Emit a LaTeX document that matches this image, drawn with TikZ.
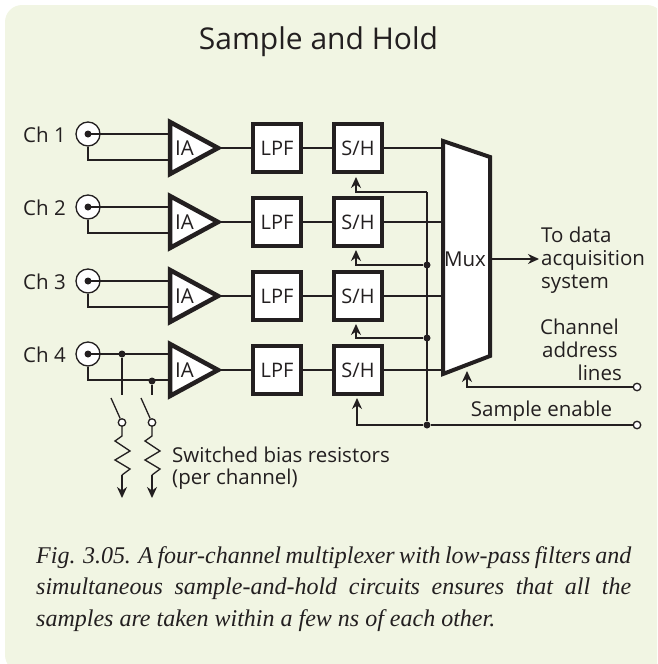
\documentclass[tikz,border=0pt]{standalone}
\usepackage{fontspec}
\setmainfont{Open Sans}
\newfontfamily\capfont{Liberation Serif}
\usetikzlibrary{arrows.meta}
\definecolor{panel}{HTML}{F1F5E3}
\definecolor{ink}{HTML}{231F20}
\tikzset{
  wire/.style={draw=ink,line width=1.3pt},
  arrowwire/.style={wire,-{Stealth[length=11pt,width=10pt,inset=3.5pt]}},
  thick box/.style={draw=ink,fill=white,line width=4.5pt,minimum size=48pt,inner sep=0pt,font=\fontsize{20}{20}\selectfont,text=ink},
  amp/.style={draw=ink,fill=white,line width=4.5pt,miter limit=10},
  lbl/.style={inner sep=0pt,text=ink,font=\fontsize{20.5}{20.5}\selectfont},
  conn/.style={circle,draw=ink,fill=white,line width=1.3pt,minimum size=24pt,inner sep=0pt},
  pin/.style={circle,fill=ink,minimum size=7pt,inner sep=0pt},
  opencirc/.style={circle,draw=ink,fill=white,line width=1.3pt,minimum size=7.5pt,inner sep=0pt},
  capline/.style={inner sep=0pt,anchor=base west,text=ink,font=\capfont\itshape\fontsize{24}{24}\selectfont},
}
\begin{document}
\begin{tikzpicture}[x=1pt,y=-1pt]
\useasboundingbox (0,0) rectangle (657,664);
\begin{scope}
\clip (0,0) rectangle (657,664);
\fill[panel,rounded corners=17pt] (5,5) rectangle (664,672);
\end{scope}
\node[lbl,font=\fontsize{30}{30}\selectfont] (title) at (318.5,41.5) {Sample and Hold};

\foreach \i/\y/\c in {1/148/134,2/222/207,3/296/281,4/370/354}{
  \coordinate (ina\i) at (170,\c);
  \coordinate (inb\i) at (170,\c+26);
  \coordinate (amptop\i) at (170,\y-26);
  \coordinate (ampbot\i) at (170,\y+26);
  \coordinate (ampout\i) at (218,\y);
  \coordinate (muxin\i) at (443,\y);
  \node[conn] (conn\i) at (88,\c) {};
  \coordinate (bend\i) at (88,\c+26);
  \draw[wire] (conn\i.south) -- (bend\i) -- (inb\i);
  \draw[wire] (conn\i.center) -- (ina\i);
  \node[pin] (pin\i) at (conn\i.center) {};
  \node[lbl,anchor=west] (chl\i) at (23,\c+1) {Ch \i};
  \draw[amp] (amptop\i) -- (ampout\i) -- (ampbot\i) -- cycle;
  \node[lbl] (ia\i) at (184.5,\y) {IA};
  \node[thick box] (lpf\i) at (277,\y) {LPF\hspace{6pt}};
  \node[thick box] (sh\i) at (358,\y) {S/H\hspace{4pt}};
  \draw[wire] (ampout\i) -- (lpf\i.west);
  \draw[wire] (lpf\i.east) -- (sh\i.west);
  \draw[wire] (sh\i.east) -- (muxin\i);
}

% control lines
\coordinate (bus1) at (427,192);
\coordinate (t1) at (356,192);
\coordinate (ct1) at (356,177);
\node[pin] (bus2) at (427,265) {};
\coordinate (t2) at (356,265);
\coordinate (ct2) at (356,250);
\node[pin] (bus3) at (427,338) {};
\coordinate (t3) at (356,338);
\coordinate (ct3) at (356,324);
\node[pin] (bus4) at (427,425) {};
\coordinate (t4) at (357,425);
\coordinate (ct4) at (357,398);
\node[opencirc] (se) at (637,425) {};
\node[opencirc] (ca) at (637,387) {};
\coordinate (cat) at (467,387);
\coordinate (catip) at (467,371);
\draw[wire] (bus1) -- (bus4);
\draw[arrowwire] (bus1) -- (t1) -- (ct1);
\draw[arrowwire] (bus2) -- (t2) -- (ct2);
\draw[arrowwire] (bus3) -- (t3) -- (ct3);
\draw[arrowwire] (bus4) -- (t4) -- (ct4);
\draw[wire] (bus4) -- (se);

% mux
\coordinate (m1) at (443,141);
\coordinate (m2) at (490,157);
\coordinate (m3) at (490,356);
\coordinate (m4) at (443,374);
\draw[amp,line width=4pt] (m1) -- (m2) -- (m3) -- (m4) -- cycle;
\node[lbl] (mux) at (465,259) {Mux};
\draw[arrowwire] (ca) -- (cat) -- (catip);
\coordinate (mo) at (490,259);
\coordinate (txt) at (539,259);
\draw[arrowwire] (mo) -- (txt);

\node[lbl,anchor=west] (l1) at (541,235) {To data};
\node[lbl,anchor=west] (l2) at (541,260) {acquisition};
\node[lbl,anchor=west] (l3) at (541,284) {system};
\node[lbl] (l4) at (579.5,327) {Channel};
\node[lbl] (l5) at (580,350) {address};
\node[lbl,anchor=east] (l6) at (622,373) {lines};
\node[lbl] (l7) at (541.5,411) {Sample enable};
\node[lbl,anchor=west] (l8) at (172,455) {Switched bias resistors};
\node[lbl,anchor=west] (l9) at (172,479) {(per channel)};

% bias
\foreach \n/\x/\yy in {a/122/354,b/152/381}{
  \node[pin] (tap\n) at (\x,\yy) {};
  \coordinate (stub\n) at (\x,395);
  \draw[wire] (tap\n) -- (stub\n);
  \node[opencirc] (sw\n) at (\x,422.5) {};
  \coordinate (blade\n) at (\x-11,398);
  \draw[wire] (blade\n) -- (sw\n);
  \coordinate (gnd\n) at (\x,498);
  \draw[wire,line join=miter] (sw\n.south) -- (\x,436) -- (\x-7,441) -- (\x+8,451) -- (\x-7,460) -- (\x+8,469) -- (\x,475);
  \draw[arrowwire] (\x,475) -- (gnd\n);
}

\node[capline] (c1) at (36,563) {\makebox[595pt][s]{Fig. 3.05. A four-channel multiplexer with low-pass filters and}};
\node[capline] (c2) at (36,594.5) {\makebox[595pt][s]{simultaneous sample-and-hold circuits ensures that all the}};
\node[capline] (c3) at (36,626) {samples are taken within a few ns of each other.};
\end{tikzpicture}
\end{document}
